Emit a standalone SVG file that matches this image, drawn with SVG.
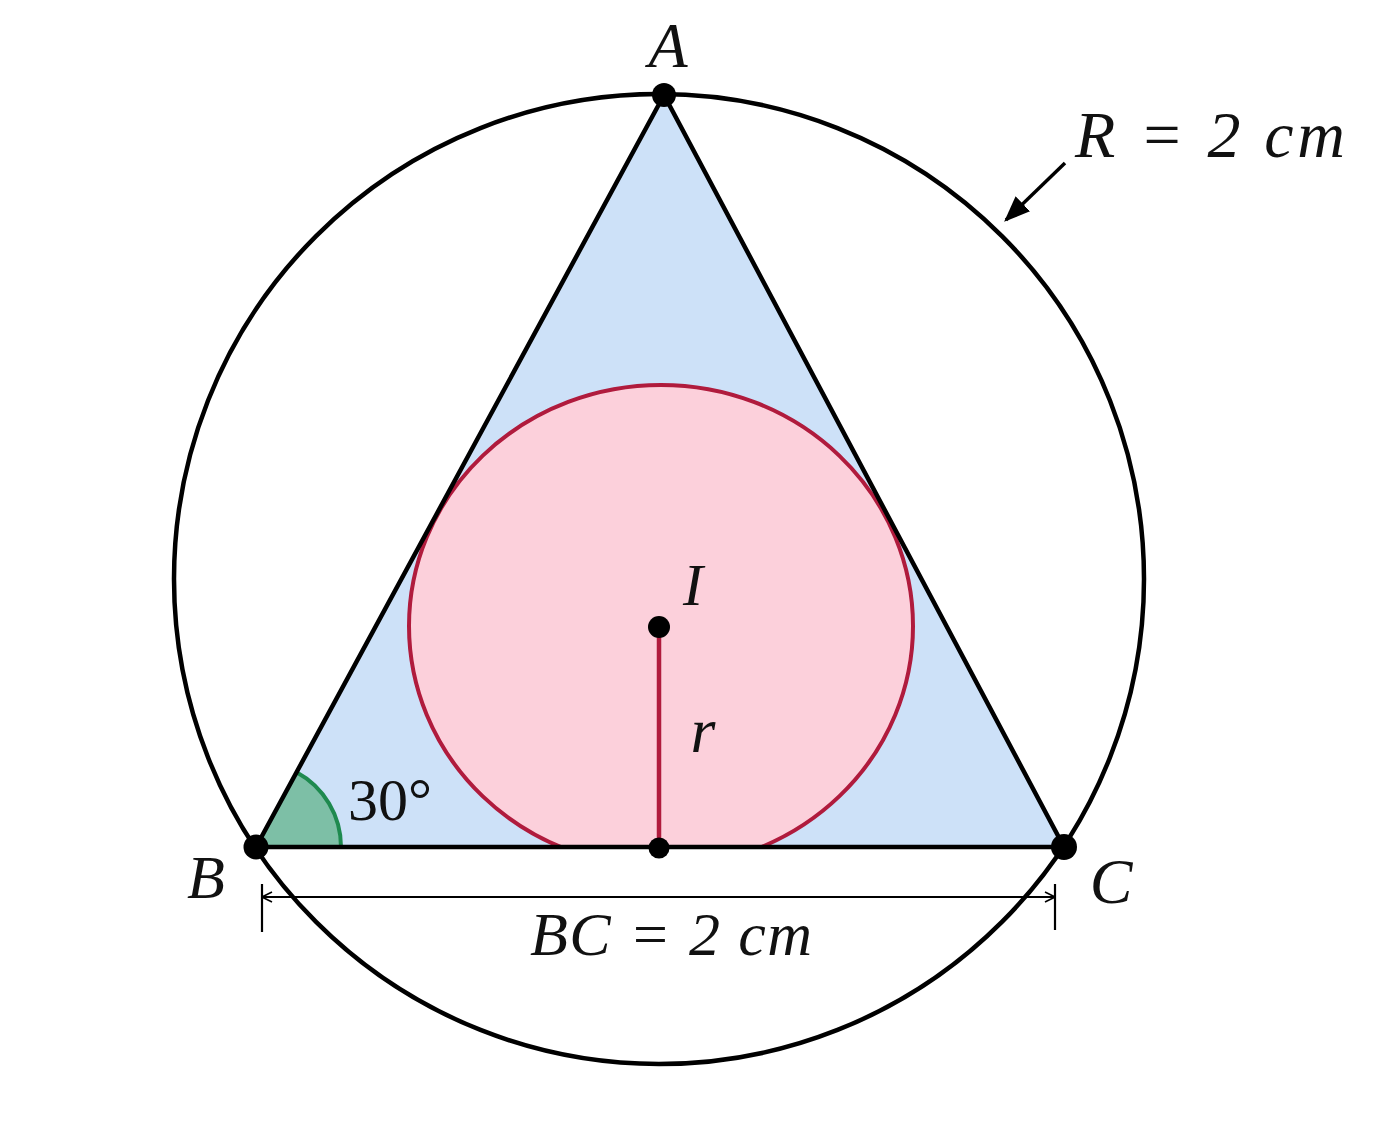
<svg xmlns="http://www.w3.org/2000/svg" width="1374" height="1145" viewBox="0 0 1374 1145">
<style>
.m{font-family:"Liberation Serif","Times New Roman",serif;font-style:italic;fill:#111}
.u{font-family:"Liberation Serif","Times New Roman",serif;fill:#111}
.blk{fill:none;stroke:#000;stroke-width:4.5;stroke-linejoin:round}
.dot{fill:#000}
</style>
<defs>
<clipPath id="tri"><polygon points="664,95 256,847 1064,847"/></clipPath>
<marker id="open" viewBox="0 0 12 12" refX="11" refY="6" markerWidth="12" markerHeight="12" markerUnits="userSpaceOnUse" orient="auto-start-reverse"><path d="M1,1 L11,6 L1,11" fill="none" stroke="#000" stroke-width="1.6"/></marker>
<marker id="fill" viewBox="0 0 20 20" refX="18" refY="10" markerWidth="26" markerHeight="26" markerUnits="userSpaceOnUse" orient="auto"><path d="M0,2 L20,10 L0,18 Z" fill="#000"/></marker>
</defs>
<rect width="1374" height="1145" fill="#fff"/>
<g id="triangle-fill"><polygon points="664,95 256,847 1064,847" fill="#cde1f8"/></g>
<g id="incircle"><g clip-path="url(#tri)"><ellipse cx="661" cy="626" rx="252" ry="241" fill="#fcd0db" stroke="#b01b3d" stroke-width="4"/></g></g>
<g id="angle"><path d="M256,847 L341,847 A85,85 0 0 0 296.6,772.3 Z" fill="#7dbfa6"/><path d="M341,847 A85,85 0 0 0 296.6,772.3" fill="none" stroke="#1e8a4f" stroke-width="4"/></g>
<g id="connectors">
<line x1="659" y1="627" x2="659" y2="847" stroke="#b01b3d" stroke-width="4.5"/>
<polygon class="blk" points="664,95 256,847 1064,847"/>
<circle class="blk" cx="659" cy="579" r="485" stroke-width="4"/>
<line x1="1065" y1="163" x2="1006" y2="220" stroke="#000" stroke-width="3.5" marker-end="url(#fill)"/>
<line x1="262" y1="897" x2="1055" y2="897" stroke="#000" stroke-width="2.2" marker-start="url(#open)" marker-end="url(#open)"/>
<line x1="262" y1="884" x2="262" y2="932" stroke="#000" stroke-width="2.2"/>
<line x1="1055" y1="884" x2="1055" y2="930" stroke="#000" stroke-width="2.2"/>
</g>
<g id="A"><circle class="dot" cx="664" cy="95" r="12"/><text class="m" x="668" y="67" font-size="64" text-anchor="middle">A</text></g>
<g id="B"><circle class="dot" cx="256" cy="847" r="12.5"/><text class="m" x="206" y="898" font-size="62" text-anchor="middle">B</text></g>
<g id="C"><circle class="dot" cx="1064" cy="847" r="13"/><text class="m" x="1111" y="903" font-size="64" text-anchor="middle">C</text></g>
<g id="I"><circle class="dot" cx="659" cy="627" r="11"/><text class="m" x="693" y="605" font-size="60" text-anchor="middle">I</text></g>
<g id="F"><circle class="dot" cx="659" cy="848" r="10.5"/></g>
<text class="m" x="703" y="752" font-size="64" text-anchor="middle">r</text>
<text class="u" x="348" y="820" font-size="60">30°</text>
<text class="m" x="1075" y="157" font-size="66" textLength="270" lengthAdjust="spacing">R = 2 cm</text>
<text class="m" x="530" y="955" font-size="62" textLength="282" lengthAdjust="spacing">BC = 2 cm</text>
</svg>
